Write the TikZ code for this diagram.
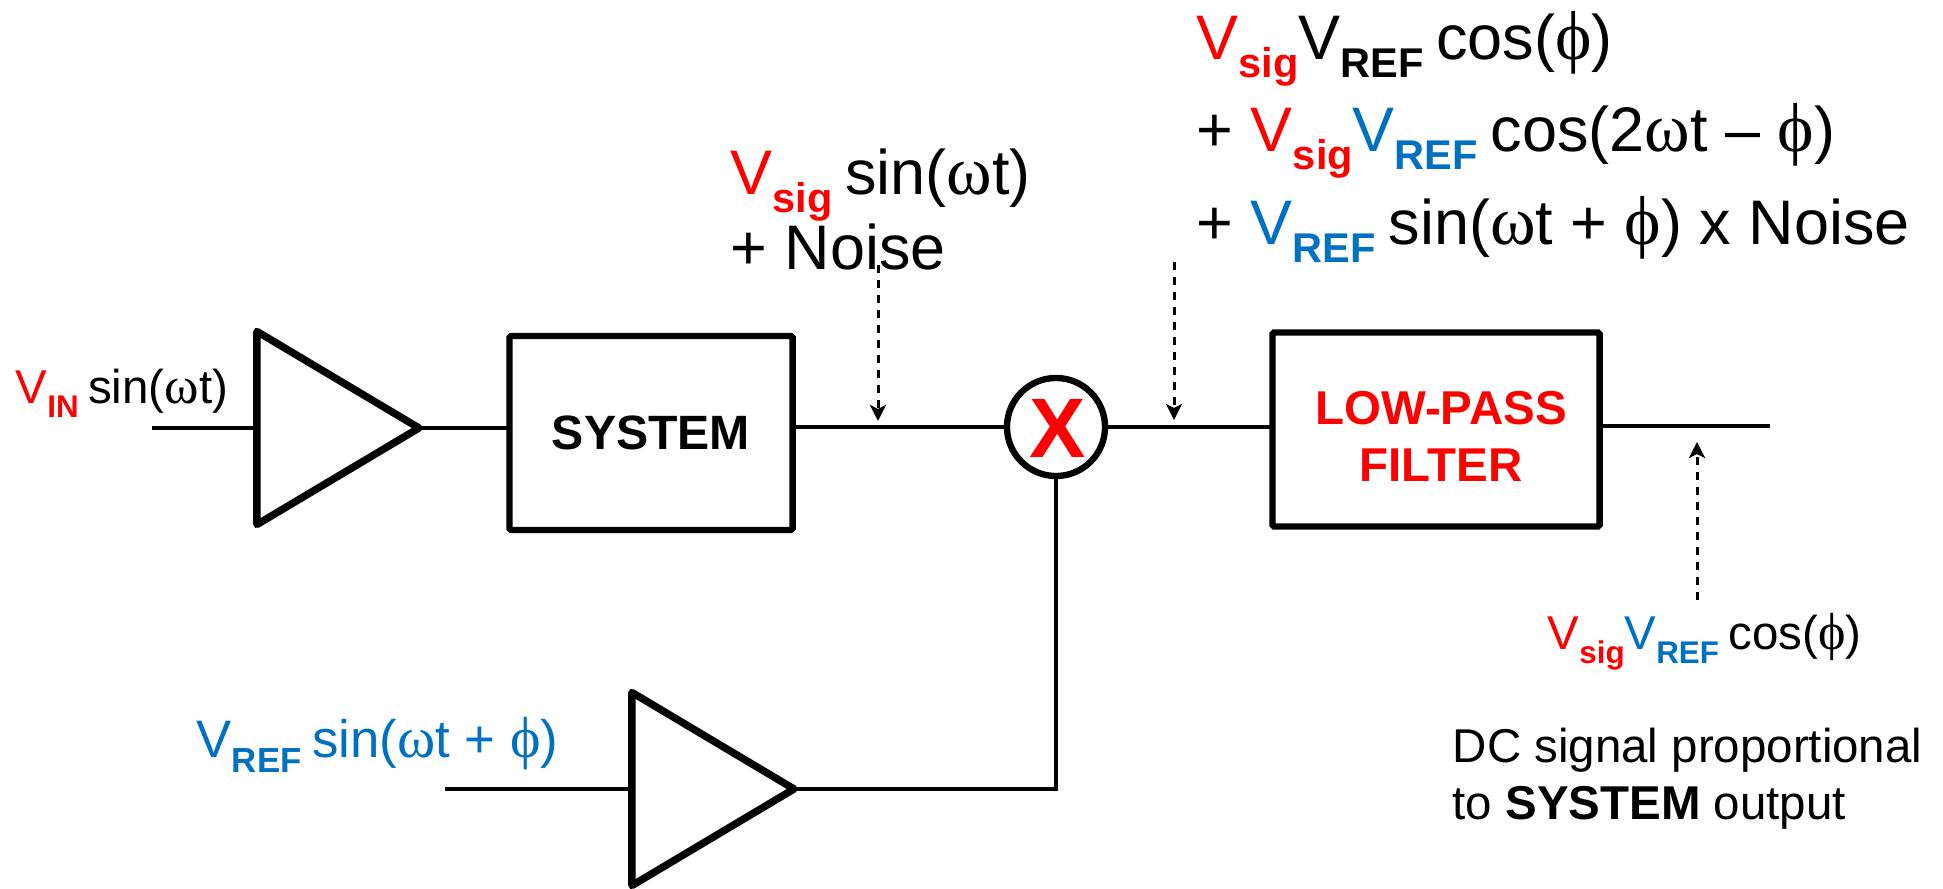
\documentclass[tikz,border=0pt]{standalone}
\usepackage{fontspec}
\setmainfont{Liberation Sans}
\newfontfamily\greekfont[Scale=1.1]{Liberation Serif}
\usetikzlibrary{arrows.meta,shapes.geometric}
\definecolor{sigred}{HTML}{FF0000}
\definecolor{refblue}{HTML}{0070C0}
\newcommand{\subtext}[1]{\raisebox{-.28em}{\scalebox{.66}{\bfseries #1}}}
\newcommand{\wt}{{\greekfont ω}t}
\newcommand{\ph}{{\greekfont ϕ}}
\newcommand{\gap}{\hspace{.2em}}
\newcommand{\Vsig}{\textcolor{sigred}{V\subtext{sig}}}
\newcommand{\Vref}{\textcolor{refblue}{V\subtext{REF}}}
\tikzset{
	wire/.style={line width=1pt},
	ampbox/.style={draw,isosceles triangle,isosceles triangle stretches,line width=2.1pt,line join=round,inner sep=0pt,outer sep=0pt,anchor=apex,minimum width=1.93cm,minimum height=1.62cm},
	blockbox/.style={draw,rectangle,line width=1.8pt,rounded corners=0.5pt,inner sep=0pt,outer sep=0pt,font=\fontsize{13.7}{16}\selectfont\bfseries},
	probe/.style={line width=.85pt,dash pattern=on .08cm off .07cm,-{Stealth[length=.16cm,width=.16cm,inset=.04cm]}},
	biglabel/.style={anchor=base west,inner sep=0pt,font=\fontsize{17.9}{20}\selectfont},
	midlabel/.style={anchor=base west,inner sep=0pt,font=\fontsize{15}{17}\selectfont},
	smalllabel/.style={anchor=base west,inner sep=0pt,font=\fontsize{13.5}{16}\selectfont}
}
\begin{document}
\begin{tikzpicture}[x=0.01cm,y=-0.01cm]
	\useasboundingbox (0,0) rectangle (1943,889);
	\node (ampin) [ampbox] at (419,428) {};
	\node (ampref) [ampbox] at (794,789) {};
	\node (sysbox) [blockbox,minimum width=2.83cm,minimum height=1.94cm] at (651,433) {SYSTEM};
	\node (lpfbox) [blockbox,minimum width=3.27cm,minimum height=1.94cm] at (1436,429.5) {};
	\node (mixer) [draw,circle,line width=1.8pt,inner sep=0pt,outer sep=0pt,minimum size=0.98cm] at (1056,427) {};
	\node (mixerx) [inner sep=0pt,text=sigred,font=\fontsize{24}{24}\selectfont\bfseries] at (1058,428) {X};
	\node (lpfa) [inner sep=0pt,text=sigred,font=\fontsize{13.5}{16}\selectfont\bfseries,anchor=base] at (1441,425) {LOW-PASS};
	\node (lpfb) [inner sep=0pt,text=sigred,font=\fontsize{13.5}{16}\selectfont\bfseries,anchor=base] at (1441,482) {FILTER};
	\coordinate (in) at (152,428);
	\coordinate (refin) at (445,789);
	\coordinate (out) at (1770,426);
	\draw [wire] (in) -- (ampin.west);
	\draw [wire] (ampin.apex) -- (ampin.apex -| sysbox.west);
	\draw [wire] (sysbox.east |- mixer.west) -- (mixer.west);
	\draw [wire] (mixer.east) -- (mixer.east -| lpfbox.west);
	\draw [wire] (out -| lpfbox.east) -- (out);
	\draw [wire] (refin) -- (ampref.west);
	\draw [wire] (ampref.apex) -| (mixer.south);
	\coordinate (probea) at (878,265);
	\coordinate (probeb) at (1174,262);
	\coordinate (probec) at (1697,600);
	\draw [probe] (probea) -- (878,421);
	\draw [probe] (probeb) -- (1174,420);
	\draw [probe] (probec) -- (1697,442);
	\node (lblin) [smalllabel] at (15,404) {\textcolor{sigred}{V\subtext{IN}}\gap sin(\wt)};
	\node (lblsiga) [biglabel] at (730,195) {\Vsig\gap sin(\wt)};
	\node (lblsigb) [biglabel] at (730,270) {+ Noise};
	\node (lblmula) [biglabel] at (1196,60) {\Vsig V\subtext{REF}\gap cos(\ph)};
	\node (lblmulb) [biglabel] at (1196,152) {+ \Vsig\Vref\gap cos(2\wt\ – \ph)};
	\node (lblmulc) [biglabel] at (1196,245) {+ \Vref\gap sin(\wt\ + \ph) x Noise};
	\node (lblref) [midlabel,text=refblue] at (196,758) {V\subtext{REF}\gap sin(\wt\ + \ph)};
	\node (lblout) [smalllabel] at (1547,650) {\Vsig\Vref\gap cos(\ph)};
	\node (lbldca) [smalllabel] at (1452,763) {DC signal proportional};
	\node (lbldcb) [smalllabel] at (1452,820) {to \textbf{SYSTEM} output};
\end{tikzpicture}
\end{document}
